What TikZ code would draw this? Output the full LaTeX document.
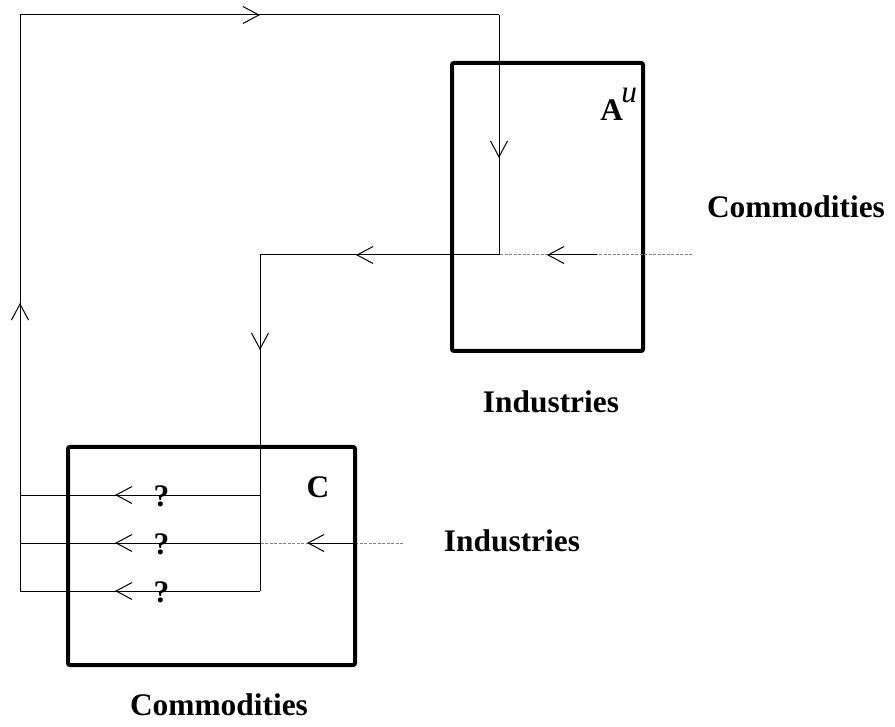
\documentclass[tikz,border=0pt]{standalone}
\usepackage{fontspec}
\setmainfont{Liberation Serif}
\usetikzlibrary{arrows.meta,decorations.markings}

\begin{document}
\begin{tikzpicture}[x=0.5pt,y=-0.5pt,
  box/.style={draw,line width=2pt,rounded corners=1pt,inner sep=0pt},
  lbl/.style={font=\fontsize{15.7}{18}\selectfont\bfseries},
  wire/.style={line width=0.5pt},
  feed/.style={wire,gray,dash pattern=on 1.5pt off 0.75pt},
  flow/.style={postaction={decorate,decoration={markings,mark=at position #1 with {\draw[solid,black,line width=0.5pt,-{Straight Barb[length=8pt,width=8.5pt]}] (-25pt,0) -- (0,0);}}}}]
  \useasboundingbox (0,0) rectangle (895,727);
  % Boxes
  \node[box,minimum width=95.5pt,minimum height=144pt] (boxA) at (547.5,207) {};
  \node[box,minimum width=143.5pt,minimum height=109pt] (boxC) at (211.5,556) {};
  % Corners of the loop
  \coordinate (tl) at (20,15);
  \coordinate (tr) at (499,15);
  \coordinate (jA) at (499,255);
  \coordinate (jC) at (260,255);
  \foreach \i/\y in {1/495,2/543,3/591} {
    \coordinate (r\i) at (260,\y);
    \coordinate (l\i) at (20,\y);
  }
  \coordinate (inA) at (692,255);
  \coordinate (inC) at (403,543);
  % Loop
  \draw[wire,flow=144pt] (l3) -- (tl);
  \draw[wire,flow=120pt] (tl) -- (tr);
  \draw[wire,flow=71.5pt] (tr) -- (jA);
  \draw[wire,flow=71.5pt] (jA) -- (jC);
  \draw[wire,flow=47.5pt] (jC) -- (r3);
  \foreach \i in {1,2,3} \draw[wire,flow=72.5pt] (r\i) -- (l\i) node[lbl,pos=0.41,yshift=-0.75pt] (q\i) {?};
  % Inputs
  \draw[feed,flow=72.5pt] (inA) -- (jA);
  \draw[feed,flow=48pt] (inC) -- (r2);
  % Labels
  \node[lbl,inner sep=0pt,anchor=base west] (aLbl) at (600,121) {A\kern-0.8pt\raisebox{9pt}{\mdseries\itshape u}};
  \node[lbl] (cLbl) at (318,487) {C};
  \node[lbl] (comA) at (796,207) {Commodities};
  \node[lbl] (indA) at (551,402) {Industries};
  \node[lbl] (indC) at (512,541) {Industries};
  \node[lbl] (comC) at (219,705) {Commodities};
\end{tikzpicture}
\end{document}
